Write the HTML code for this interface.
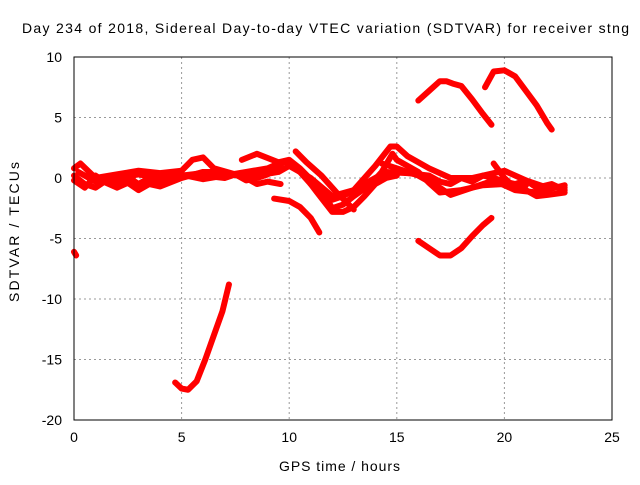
<!DOCTYPE html>
<html><head><meta charset="utf-8"><style>
body{margin:0;background:#fff}
svg text{font-family:"Liberation Sans",sans-serif;font-size:14px;fill:#000}
</style></head><body>
<svg id="chart" width="640" height="480" viewBox="0 0 640 480" xmlns="http://www.w3.org/2000/svg">
<rect width="640" height="480" fill="#fff"/>
<text x="22" y="33" textLength="607" lengthAdjust="spacing">Day 234 of 2018, Sidereal Day-to-day VTEC variation (SDTVAR) for receiver stng</text>
<g id="grid"></g>
<g id="series"></g>
<rect x="74" y="57" width="538" height="363" fill="none" stroke="#000" stroke-width="1"/>
<g id="ticks"></g>
<text x="279" y="471" textLength="121" lengthAdjust="spacing">GPS time / hours</text>
<text x="0" y="0" text-anchor="middle" textLength="140" lengthAdjust="spacing" transform="translate(19,232) rotate(-90)">SDTVAR / TECUs</text>
</svg>
<script>
const xTicks=[0,5,10,15,20,25];
const yTicks=[10,5,0,-5,-10,-15,-20];
const traces=[
[[4.7,-16.9],[5,-17.4],[5.3,-17.5],[5.7,-16.8],[6.1,-15],[6.5,-13],[6.9,-11],[7.2,-8.8]],
[[16,6.4],[16.5,7.2],[17,8],[17.3,8],[17.6,7.8],[18,7.6],[18.5,6.5],[19,5.3],[19.4,4.4]],
[[19.1,7.5],[19.5,8.8],[20,8.9],[20.5,8.4],[21,7.2],[21.5,6],[22,4.5],[22.2,4]],
[[16,-5.2],[16.5,-5.8],[17,-6.4],[17.5,-6.4],[18,-5.8],[18.5,-4.8],[19,-3.9],[19.4,-3.3]],
[[0,-6.1],[0.1,-6.4]],
[[9.3,-1.7],[10,-1.9],[10.5,-2.4],[11,-3.3],[11.4,-4.5]],
[[0,0.2],[0.5,-0.5],[1,-0.8],[1.5,-0.2],[2,-0.3],[2.5,0.1],[3,-0.5],[3.5,0],[4,-0.5],[4.5,0],[5,0.2],[6,0.4],[6.5,0.1],[7,0],[7.5,0.3],[8,-0.2],[8.5,0],[9,0.3],[9.8,1.4],[10.5,0.5],[11,-0.5],[12,-1.8],[12.5,-1.5],[13.5,-0.5],[14.5,0.5],[15.5,0.4],[16.5,0.2],[17,-0.3],[17.5,-0.5],[18,0],[18.5,-0.3],[19,0.2],[19.5,0],[20,-0.3],[20.5,-0.5],[21,-0.2],[21.5,-0.8],[22.2,-0.5],[22.8,-1.0]],
[[0,0.8],[0.3,1.2],[1,0],[2,0.3],[3,0.6],[4,0.4],[5,0.6],[5.5,1.5],[6,1.7],[6.5,0.8],[7.5,0.3],[8.5,0.2],[9.5,0.5],[10,1],[11,0],[12,-1.5],[13,-1],[14,1],[14.7,2.6],[15,2.6],[15.5,1.8],[16.5,0.8],[17.5,0],[18.5,0],[19.5,0.4],[20,0.6],[21,-0.2],[22,-0.8],[22.8,-0.8]],
[[7.8,1.5],[8.5,2],[9.5,1.3],[10,1.5],[10.5,0.8],[11.5,-1],[12,-2.5],[12.5,-2.2],[13,-1.5],[13.8,-0.5],[14.3,0.5],[14.8,2.0],[15,1.5],[16,0.5],[16.5,-0.4],[17,-1.2],[18,-1.0],[19,-0.6],[20,-0.5],[21,-1.0],[21.5,-1.5],[22,-1.4],[22.8,-1.2]],
[[10.3,2.2],[10.8,1.3],[11.5,0.2],[12.2,-1.2],[13,-2.6]],
[[10.7,0.2],[11.3,-1.2],[12,-2.8],[12.5,-2.8],[13,-2.4],[13.5,-1.5],[14,-0.5],[14.5,0],[15,0.2]],
[[0,-0.2],[0.5,-0.8],[1,0.2],[1.5,-0.4],[2,-0.8],[2.5,-0.4],[3,-1],[3.5,-0.5],[4,-0.7],[5,0],[6,0.5],[7,0.5],[8,0],[8.5,-0.5],[9,-0.3],[9.6,-0.5]],
[[0.2,0.5],[1,-0.3],[2,0],[3,0.3],[4,0],[4.5,0.4],[5.2,0.2],[6,-0.1],[7,0.2],[8,0.5],[9,0.8],[9.5,1.2]],
[[14.3,1.2],[15,0.8],[16,0.2],[17,-0.8],[17.5,-1.4],[18.5,-0.8],[19.5,-0.2],[20.5,-1.0],[21.5,-1.2],[22.8,-0.6]],
[[19.5,1.2],[20,0],[20.5,-0.8],[21,-0.6]]
];
const NS="http://www.w3.org/2000/svg";
const X0=74,X1=612,Y0=57,Y1=420;
function sx(v){return X0+(v-0)/(25-0)*(X1-X0);}
function sy(v){return Y1-(v+20)/(30)*(Y1-Y0);}
const grid=document.getElementById('grid'),ticks=document.getElementById('ticks'),ser=document.getElementById('series');
function mk(tag,a,p){const e=document.createElementNS(NS,tag);for(const k in a)e.setAttribute(k,a[k]);p.appendChild(e);return e;}
xTicks.forEach(t=>{const x=sx(t);
 if(t>0&&t<25){const g=mk('line',{x1:x,x2:x,y1:Y0,y2:Y1,stroke:'#999','stroke-dasharray':'2,3'},grid);
 
 }
 const l=mk('text',{x:x,y:442,'text-anchor':'middle'},ticks);l.textContent=t;
 
 
});
yTicks.forEach(t=>{const y=sy(t);
 if(t>-20&&t<10){const g=mk('line',{x1:X0,x2:X1,y1:y,y2:y,stroke:'#999','stroke-dasharray':'2,3'},grid);
 
 }
 const l=mk('text',{x:62,y:y+5,'text-anchor':'end'},ticks);l.textContent=t;
 
 
});
traces.forEach(tr=>{
 const p=mk('polyline',{points:tr.map(d=>sx(d[0])+','+sy(d[1])).join(' '),fill:'none',stroke:'#ff0000','stroke-width':6,'stroke-linejoin':'round','stroke-linecap':'round'},ser);
 
 
});
</script>
</body></html>
